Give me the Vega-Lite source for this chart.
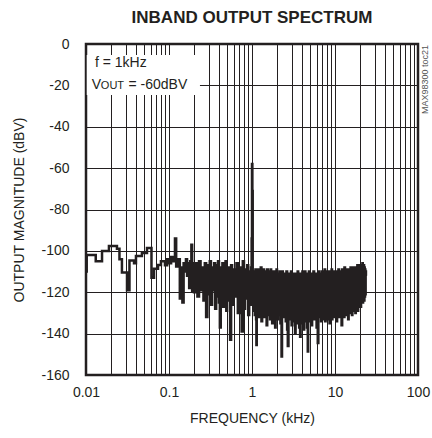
{
  "$schema": "https://vega.github.io/schema/vega-lite/v6.json",
  "autosize": "none",
  "width": 332,
  "height": 331,
  "padding": {"left": 86, "top": 44, "right": 14, "bottom": 63},
  "background": "white",
  "config": {
    "view": {"stroke": "#231f20", "strokeWidth": 2.5},
    "font": "Liberation Sans"
  },
  "title": {"text": "INBAND OUTPUT SPECTRUM", "fontSize": 17, "fontWeight": "bold", "font": "Liberation Sans", "offset": 10, "anchor": "middle", "color": "#231f20"},
  "encoding": {
    "x": {
      "field": "f", "type": "quantitative",
      "scale": {"type": "log", "domain": [0.01, 100]},
      "axis": {
        "title": "FREQUENCY (kHz)",
        "values": [0.01,0.02,0.03,0.04,0.05,0.06,0.07,0.08,0.09,0.1,0.2,0.3,0.4,0.5,0.6,0.7,0.8,0.9,1,2,3,4,5,6,7,8,9,10,20,30,40,50,60,70,80,90,100],
        "labelExpr": "indexof([0.01,0.1,1,10,100], datum.value) >= 0 ? '' + datum.value : ''",
        "labelOverlap": false, "labelBound": false, "labelFlush": false,
        "grid": true, "gridColor": "#231f20", "gridWidth": 1, "gridOpacity": 1,
        "tickSize": 0, "domain": false,
        "labelFontSize": 14, "labelPadding": 10, "labelColor": "#231f20",
        "titleFontSize": 14, "titleFontWeight": "normal", "titlePadding": 12, "titleColor": "#231f20"
      }
    },
    "y": {
      "field": "db", "type": "quantitative",
      "scale": {"domain": [-160, 0]},
      "axis": {
        "title": "OUTPUT MAGNITUDE (dBV)",
        "values": [-160,-140,-120,-100,-80,-60,-40,-20,0],
        "labelExpr": "'' + datum.value",
        "labelOverlap": false, "labelBound": false, "labelFlush": false,
        "grid": true, "gridColor": "#231f20", "gridWidth": 1, "gridOpacity": 1,
        "tickSize": 0, "domain": false,
        "labelFontSize": 14, "labelPadding": 17, "labelColor": "#231f20",
        "titleFontSize": 14, "titleFontWeight": "normal", "titlePadding": 14, "titleColor": "#231f20"
      }
    }
  },
  "layer": [
    {
      "data": {"values": [
        {"f":0.01,"db":-110},{"f":0.0102,"db":-102},{"f":0.0131,"db":-105},{"f":0.0156,"db":-100},{"f":0.0189,"db":-97.6},
        {"f":0.0236,"db":-99},{"f":0.0253,"db":-104},{"f":0.0271,"db":-110.5},{"f":0.0312,"db":-119},{"f":0.0334,"db":-104.7},
        {"f":0.0379,"db":-106},{"f":0.04,"db":-102.5},{"f":0.0472,"db":-101},{"f":0.0543,"db":-98.6},{"f":0.0615,"db":-113},
        {"f":0.066,"db":-108.7},{"f":0.0737,"db":-106.8},{"f":0.08,"db":-105},{"f":0.0894,"db":-107},{"f":0.095,"db":-104},
        {"f":0.1,"db":-106},{"f":0.106,"db":-103},{"f":0.113,"db":-105},{"f":0.118,"db":-94},{"f":0.122,"db":-107.6},
        {"f":0.128,"db":-104},{"f":0.135,"db":-123},{"f":0.14,"db":-108},{"f":0.145,"db":-125},{"f":0.15,"db":-106},
        {"f":0.155,"db":-110},{"f":0.16,"db":-104},{"f":0.165,"db":-112},{"f":0.17,"db":-106},{"f":0.175,"db":-118},
        {"f":0.18,"db":-105},{"f":0.186,"db":-97},{"f":0.19,"db":-119.7},{"f":0.195,"db":-106},{"f":0.2,"db":-120},
        {"f":0.21,"db":-106},{"f":0.22,"db":-122},{"f":0.23,"db":-105},{"f":0.24,"db":-119},{"f":0.25,"db":-108},
        {"f":0.26,"db":-124},{"f":0.27,"db":-106},{"f":0.28,"db":-132},{"f":0.29,"db":-107},{"f":0.3,"db":-121},
        {"f":0.31,"db":-105},{"f":0.32,"db":-126},{"f":0.33,"db":-108},{"f":0.34,"db":-119},{"f":0.35,"db":-106},
        {"f":0.36,"db":-128},{"f":0.37,"db":-107},{"f":0.38,"db":-122},{"f":0.39,"db":-105},{"f":0.4,"db":-125},
        {"f":0.41,"db":-137},{"f":0.42,"db":-108},{"f":0.43,"db":-121},{"f":0.44,"db":-106},{"f":0.45,"db":-127},
        {"f":0.46,"db":-109},{"f":0.47,"db":-120},{"f":0.48,"db":-105},{"f":0.49,"db":-129},{"f":0.5,"db":-108},
        {"f":0.525,"db":-124},{"f":0.545,"db":-143},{"f":0.56,"db":-107},{"f":0.575,"db":-126},{"f":0.6,"db":-109},
        {"f":0.625,"db":-122},{"f":0.65,"db":-106},{"f":0.675,"db":-130},{"f":0.7,"db":-108},{"f":0.725,"db":-125},
        {"f":0.75,"db":-139},{"f":0.775,"db":-105},{"f":0.8,"db":-128},{"f":0.825,"db":-109},{"f":0.85,"db":-123},
        {"f":0.875,"db":-107},{"f":0.9,"db":-131},{"f":0.925,"db":-110},{"f":0.95,"db":-126},{"f":0.975,"db":-108},
        {"f":0.99,"db":-94},{"f":1.0,"db":-58},{"f":1.01,"db":-71},{"f":1.02,"db":-112},
        {"f":1.04,"db":-129},{"f":1.06,"db":-110},{"f":1.08,"db":-131},{"f":1.1,"db":-109},{"f":1.12,"db":-133},
        {"f":1.13,"db":-145.5},{"f":1.14,"db":-111},{"f":1.16,"db":-128},{"f":1.18,"db":-109},{"f":1.2,"db":-132},
        {"f":1.225,"db":-111},{"f":1.25,"db":-130},{"f":1.275,"db":-108},{"f":1.3,"db":-134},{"f":1.325,"db":-110},
        {"f":1.35,"db":-129},{"f":1.375,"db":-109},{"f":1.4,"db":-132},{"f":1.425,"db":-111},{"f":1.45,"db":-128},
        {"f":1.475,"db":-110},{"f":1.5,"db":-136},{"f":1.525,"db":-109},{"f":1.55,"db":-131},{"f":1.575,"db":-112},
        {"f":1.6,"db":-129},{"f":1.625,"db":-110},{"f":1.65,"db":-133},{"f":1.675,"db":-109},{"f":1.7,"db":-130},
        {"f":1.725,"db":-111},{"f":1.75,"db":-135},{"f":1.775,"db":-110},{"f":1.8,"db":-129},{"f":1.825,"db":-112},
        {"f":1.85,"db":-132},{"f":1.875,"db":-110},{"f":1.9,"db":-137},{"f":1.925,"db":-111},{"f":1.95,"db":-130},
        {"f":1.975,"db":-109},{"f":2.0,"db":-133},
        {"f":2.05,"db":-111},{"f":2.1,"db":-131},{"f":2.15,"db":-110},{"f":2.2,"db":-135},{"f":2.25,"db":-112},
        {"f":2.27,"db":-151},{"f":2.3,"db":-110},{"f":2.35,"db":-132},{"f":2.4,"db":-111},{"f":2.45,"db":-130},
        {"f":2.5,"db":-112},{"f":2.55,"db":-134},{"f":2.6,"db":-110},{"f":2.65,"db":-138},{"f":2.7,"db":-146},
        {"f":2.75,"db":-111},{"f":2.8,"db":-131},{"f":2.85,"db":-112},{"f":2.9,"db":-133},{"f":2.95,"db":-110},
        {"f":3.0,"db":-136},{"f":3.05,"db":-112},{"f":3.1,"db":-131},{"f":3.15,"db":-111},{"f":3.2,"db":-134},
        {"f":3.25,"db":-113},{"f":3.3,"db":-140},{"f":3.35,"db":-111},{"f":3.4,"db":-132},{"f":3.45,"db":-112},
        {"f":3.5,"db":-135},{"f":3.55,"db":-110},{"f":3.6,"db":-131},{"f":3.65,"db":-113},{"f":3.7,"db":-137},
        {"f":3.75,"db":-112},{"f":3.8,"db":-141.5},{"f":3.85,"db":-111},{"f":3.9,"db":-133},{"f":3.95,"db":-112},
        {"f":4.0,"db":-135},{"f":4.05,"db":-110},{"f":4.1,"db":-132},{"f":4.15,"db":-112},{"f":4.2,"db":-138},
        {"f":4.25,"db":-111},{"f":4.3,"db":-131},{"f":4.35,"db":-110},{"f":4.4,"db":-134},{"f":4.45,"db":-112},
        {"f":4.5,"db":-132},{"f":4.55,"db":-111},{"f":4.6,"db":-137},{"f":4.65,"db":-112},{"f":4.7,"db":-148.7},
        {"f":4.75,"db":-111},{"f":4.8,"db":-133},{"f":4.85,"db":-110},{"f":4.9,"db":-134},{"f":4.95,"db":-112},
        {"f":5.0,"db":-131},
        {"f":5.1,"db":-111},{"f":5.2,"db":-136},{"f":5.3,"db":-112},{"f":5.4,"db":-131},{"f":5.5,"db":-110},
        {"f":5.6,"db":-133},{"f":5.7,"db":-112},{"f":5.8,"db":-130},{"f":5.9,"db":-111},{"f":6.0,"db":-137},
        {"f":6.1,"db":-112},{"f":6.2,"db":-144.5},{"f":6.3,"db":-110},{"f":6.4,"db":-132},{"f":6.5,"db":-111},
        {"f":6.6,"db":-130},{"f":6.7,"db":-112},{"f":6.8,"db":-134},{"f":6.9,"db":-110},{"f":7.0,"db":-131},
        {"f":7.1,"db":-112},{"f":7.2,"db":-133},{"f":7.3,"db":-111},{"f":7.4,"db":-130},{"f":7.5,"db":-109},
        {"f":7.6,"db":-134},{"f":7.7,"db":-111},{"f":7.8,"db":-131},{"f":7.9,"db":-110},{"f":8.0,"db":-129},
        {"f":8.1,"db":-112},{"f":8.2,"db":-133},{"f":8.3,"db":-110},{"f":8.4,"db":-130},{"f":8.5,"db":-111},
        {"f":8.6,"db":-135},{"f":8.7,"db":-112},{"f":8.8,"db":-131},{"f":8.9,"db":-110},{"f":9.0,"db":-129},
        {"f":9.1,"db":-109},{"f":9.2,"db":-133},{"f":9.3,"db":-111},{"f":9.4,"db":-130},{"f":9.5,"db":-110},
        {"f":9.6,"db":-132},{"f":9.7,"db":-111},{"f":9.8,"db":-129},{"f":9.9,"db":-110},{"f":10.0,"db":-131},
        {"f":10.2,"db":-111},{"f":10.4,"db":-134},{"f":10.6,"db":-110},{"f":10.8,"db":-130},{"f":11.0,"db":-109},
        {"f":11.2,"db":-132},{"f":11.4,"db":-111},{"f":11.6,"db":-129},{"f":11.8,"db":-110},{"f":12.0,"db":-136},
        {"f":12.2,"db":-109},{"f":12.4,"db":-130},{"f":12.6,"db":-111},{"f":12.8,"db":-132},{"f":13.0,"db":-108},
        {"f":13.2,"db":-129},{"f":13.4,"db":-110},{"f":13.6,"db":-131},{"f":13.8,"db":-109},{"f":14.0,"db":-128},
        {"f":14.2,"db":-111},{"f":14.4,"db":-133},{"f":14.6,"db":-109},{"f":14.8,"db":-129},{"f":15.0,"db":-110},
        {"f":15.2,"db":-128},{"f":15.4,"db":-108},{"f":15.6,"db":-130},{"f":15.8,"db":-110},{"f":16.0,"db":-131},
        {"f":16.2,"db":-109},{"f":16.4,"db":-127},{"f":16.6,"db":-108},{"f":16.8,"db":-129},{"f":17.0,"db":-110},
        {"f":17.2,"db":-128},{"f":17.4,"db":-109},{"f":17.6,"db":-130},{"f":17.8,"db":-108},{"f":18.0,"db":-127},
        {"f":18.2,"db":-109},{"f":18.4,"db":-126},{"f":18.6,"db":-107},{"f":18.8,"db":-129},{"f":19.0,"db":-109},
        {"f":19.2,"db":-127},{"f":19.4,"db":-108},{"f":19.6,"db":-126},{"f":19.8,"db":-107},{"f":20.0,"db":-125},
        {"f":20.2,"db":-108},{"f":20.4,"db":-127},{"f":20.6,"db":-107},{"f":20.8,"db":-125},{"f":21.0,"db":-108},
        {"f":21.2,"db":-124},{"f":21.4,"db":-106},{"f":21.6,"db":-125},{"f":21.8,"db":-108},{"f":22.0,"db":-123},
        {"f":22.2,"db":-107},{"f":22.4,"db":-124},{"f":22.6,"db":-108},{"f":22.8,"db":-122},{"f":23.0,"db":-109},
        {"f":23.2,"db":-121},{"f":23.4,"db":-110},{"f":23.6,"db":-112}
      ]},
      "mark": {"type": "line", "interpolate": "step-after", "color": "#231f20", "strokeWidth": 2.5, "clip": true}
    },
    {
      "data": {"values": [{"f": 0.0102, "f2": 0.236, "db": -5.3, "db2": -24.6}]},
      "mark": {"type": "rect", "fill": "white", "stroke": null},
      "encoding": {"x2": {"field": "f2"}, "y2": {"field": "db2"}}
    },
    {
      "data": {"values": [
        {"f": 0.0128, "db": -9, "t": "f = 1kHz"},
        {"f": 0.0117, "db": -19.6, "t": "V"},
        {"f": 0.0325, "db": -19.6, "t": "= -60dBV"}
      ]},
      "mark": {"type": "text", "align": "left", "baseline": "middle", "fontSize": 14, "color": "#231f20"},
      "encoding": {"text": {"field": "t"}}
    },
    {
      "data": {"values": [{"f": 0.0151, "db": -20.5, "t": "OUT"}]},
      "mark": {"type": "text", "align": "left", "baseline": "middle", "fontSize": 11, "color": "#231f20"},
      "encoding": {"text": {"field": "t"}}
    },
    {
      "data": {"values": [{"f": 121, "db": -0.5, "t": "MAX98300 toc21"}]},
      "mark": {"type": "text", "align": "right", "baseline": "middle", "angle": 270, "fontSize": 9, "color": "#555555", "clip": false},
      "encoding": {"text": {"field": "t"}}
    }
  ]
}
